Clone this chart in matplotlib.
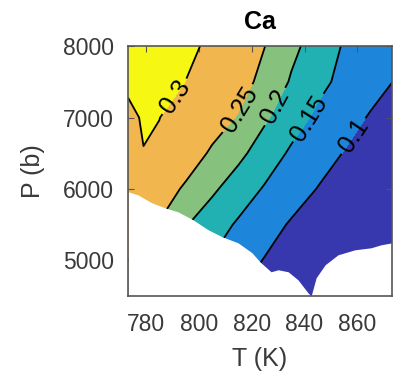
import numpy as np
import matplotlib
matplotlib.use('Agg')
import matplotlib.pyplot as plt

plt.rcParams['font.family'] = ['Liberation Sans', 'DejaVu Sans']

# grid
T = [773.15, 779, 785, 795, 805, 815, 825, 835, 845, 855, 865, 873.15]
P = [4500, 5000, 5500, 6000, 6500, 7000, 7500, 8000]
Z = [
    [0.230, 0.220, 0.200, 0.165, 0.130, 0.100, 0.078, 0.055, 0.035, 0.015, 0.000, -0.010],
    [0.250, 0.240, 0.215, 0.178, 0.147, 0.121, 0.0975, 0.073, 0.050, 0.030, 0.010, 0.000],
    [0.275, 0.268, 0.248, 0.203, 0.1726, 0.1437, 0.1194, 0.0952, 0.071, 0.047, 0.023, 0.005],
    [0.280, 0.275, 0.268, 0.2449, 0.2081, 0.1755, 0.1455, 0.1221, 0.0986, 0.075, 0.052, 0.033],
    [0.288, 0.299, 0.294, 0.2693, 0.245, 0.2119, 0.1759, 0.143, 0.1206, 0.0982, 0.0758, 0.0576],
    [0.290, 0.304, 0.3005, 0.2833, 0.2662, 0.2475, 0.2066, 0.1708, 0.141, 0.1186, 0.0961, 0.0777],
    [0.308, 0.315, 0.317, 0.2995, 0.2817, 0.2639, 0.2396, 0.1949, 0.1628, 0.1378, 0.1173, 0.1005],
    [0.335, 0.333, 0.331, 0.311, 0.2907, 0.2703, 0.2502, 0.2124, 0.178, 0.146, 0.121, 0.104],
]
levels = [0.1, 0.15, 0.2, 0.25, 0.3]

# lower edge of the computed region (below it is blank)
edge_T = [773.15, 776.9, 782.2, 787.2, 792.1, 797.8, 803.5, 808.8, 814.8, 820.1, 823.1,
          827.3, 830.0, 833.8, 837.5, 841.3, 842.5, 844.4, 847.8, 852.7, 859.1, 865.2, 869.0, 873.15]
edge_P = [5960, 5916, 5804, 5734, 5678, 5566, 5427, 5329, 5245, 5105, 4979,
          4839, 4867, 4839, 4727, 4545, 4500, 4755, 4937, 5077, 5147, 5175, 5217, 5245]

colors = ['#3737AE', '#1D85DA', '#21B1B3', '#86C17E', '#F1B74E', '#F7F714']

fig = plt.figure(figsize=(3.94, 3.78), dpi=100)
ax = fig.add_axes([0.325, 0.217, 0.670, 0.661])

TT, PP = np.meshgrid(T, P)
ZZ = np.array(Z)
ax.contourf(TT, PP, ZZ, levels=[-0.05] + levels + [0.4], colors=colors)
cs = ax.contour(TT, PP, ZZ, levels=levels, colors='k', linewidths=1.3)
ax.clabel(cs, levels, fmt='%g', fontsize=18, inline=True, inline_spacing=4,
          manual=[(859, 6730), (841, 7010), (829, 7150), (815, 7120), (791, 7290)])

ax.fill_between(edge_T, edge_P, 4400, color='white', zorder=2.2, lw=0)

ax.set_xlim(773.15, 873.15)
ax.set_ylim(4500, 8000)
ax.set_xticks([780, 800, 820, 840, 860])
ax.set_yticks([5000, 6000, 7000, 8000])
ax.tick_params(direction='in', top=True, right=True, length=4, labelsize=16.5,
               colors='#555555', labelcolor='#3a3a3a')
ax.tick_params(axis='x', pad=12)
ax.tick_params(axis='y', pad=10)
for s in ax.spines.values():
    s.set_color('#555555')
    s.set_linewidth(1.2)

ax.set_xlabel('T (K)', fontsize=18, color='#3a3a3a', labelpad=8)
ax.set_ylabel('P (b)', fontsize=18, color='#3a3a3a', labelpad=13)
ax.set_title('Ca', fontsize=18, fontweight='bold', pad=12)

fig.savefig('out.png', dpi=100)
